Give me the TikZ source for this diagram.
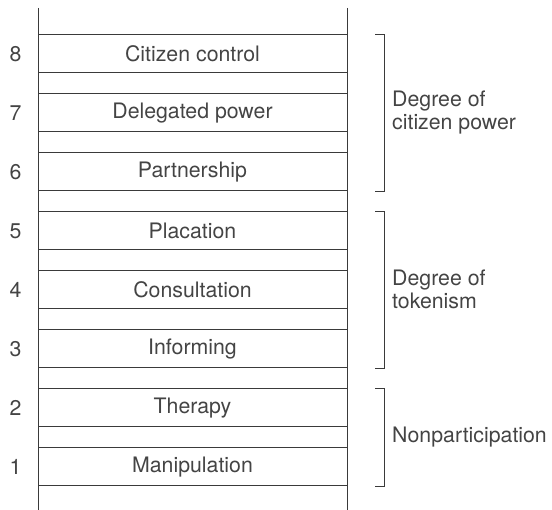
\documentclass[tikz,border=0pt]{standalone}
\usepackage{fontspec}
\setmainfont{TeX Gyre Heros}
\usetikzlibrary{calc}
\definecolor{ink}{HTML}{444444}
\definecolor{linec}{HTML}{3A3A3A}
\begin{document}
\begin{tikzpicture}[x=1pt,y=-1pt,
  every node/.style={font=\fontsize{21.3}{23}\selectfont, text=ink},
  rung/.style={draw=linec, line width=1pt, minimum width=309pt, minimum height=38pt, inner sep=0pt},
  num/.style={inner sep=0pt},
  grp/.style={inner sep=0pt, anchor=west, align=left},
  rail/.style={draw=linec, line width=1pt},
  brk/.style={draw=linec, line width=1pt}]
\useasboundingbox (0,0) rectangle (552,510);
% rails
\coordinate (lt) at (38,8);
\coordinate (lb) at (38,510);
\coordinate (rt) at (347,8);
\coordinate (rb) at (347,510);
\draw[rail] (lt) -- (lb);
\draw[rail] (rt) -- (rb);
% rungs
\node[rung] (r8) at (192.5,54)  {Citizen control};
\node[rung] (r7) at (192.5,113) {Delegated power};
\node[rung] (r6) at (192.5,172) {Partnership};
\node[rung] (r5) at (192.5,231) {Placation};
\node[rung] (r4) at (192.5,290) {Consultation};
\node[rung] (r3) at (192.5,349) {Informing};
\node[rung] (r2) at (192.5,408) {Therapy};
\node[rung] (r1) at (192.5,467) {Manipulation};
% numbers
\node[num] (n8) at (15.5,54)  {8};
\node[num] (n7) at (15.5,113) {7};
\node[num] (n6) at (15.5,172) {6};
\node[num] (n5) at (15.5,231) {5};
\node[num] (n4) at (15.5,290) {4};
\node[num] (n3) at (15.5,349) {3};
\node[num] (n2) at (15.5,408) {2};
\node[num] (n1) at (15.5,467) {1};
% brackets
\coordinate (bx) at (384,0);
\coordinate (bt) at (375,0);
\draw[brk] (r8.north -| bt) -- (r8.north -| bx) -- (r6.south -| bx) -- (r6.south -| bt);
\draw[brk] (r5.north -| bt) -- (r5.north -| bx) -- (r3.south -| bx) -- (r3.south -| bt);
\draw[brk] (r2.north -| bt) -- (r2.north -| bx) -- (r1.south -| bx) -- (r1.south -| bt);
% group labels
\node[grp] (g1) at (392,113) {Degree of\\citizen power};
\node[grp] (g2) at (392,289) {Degree of\\tokenism};
\node[grp] (g3) at (392,437) {Nonparticipation};
\end{tikzpicture}
\end{document}
